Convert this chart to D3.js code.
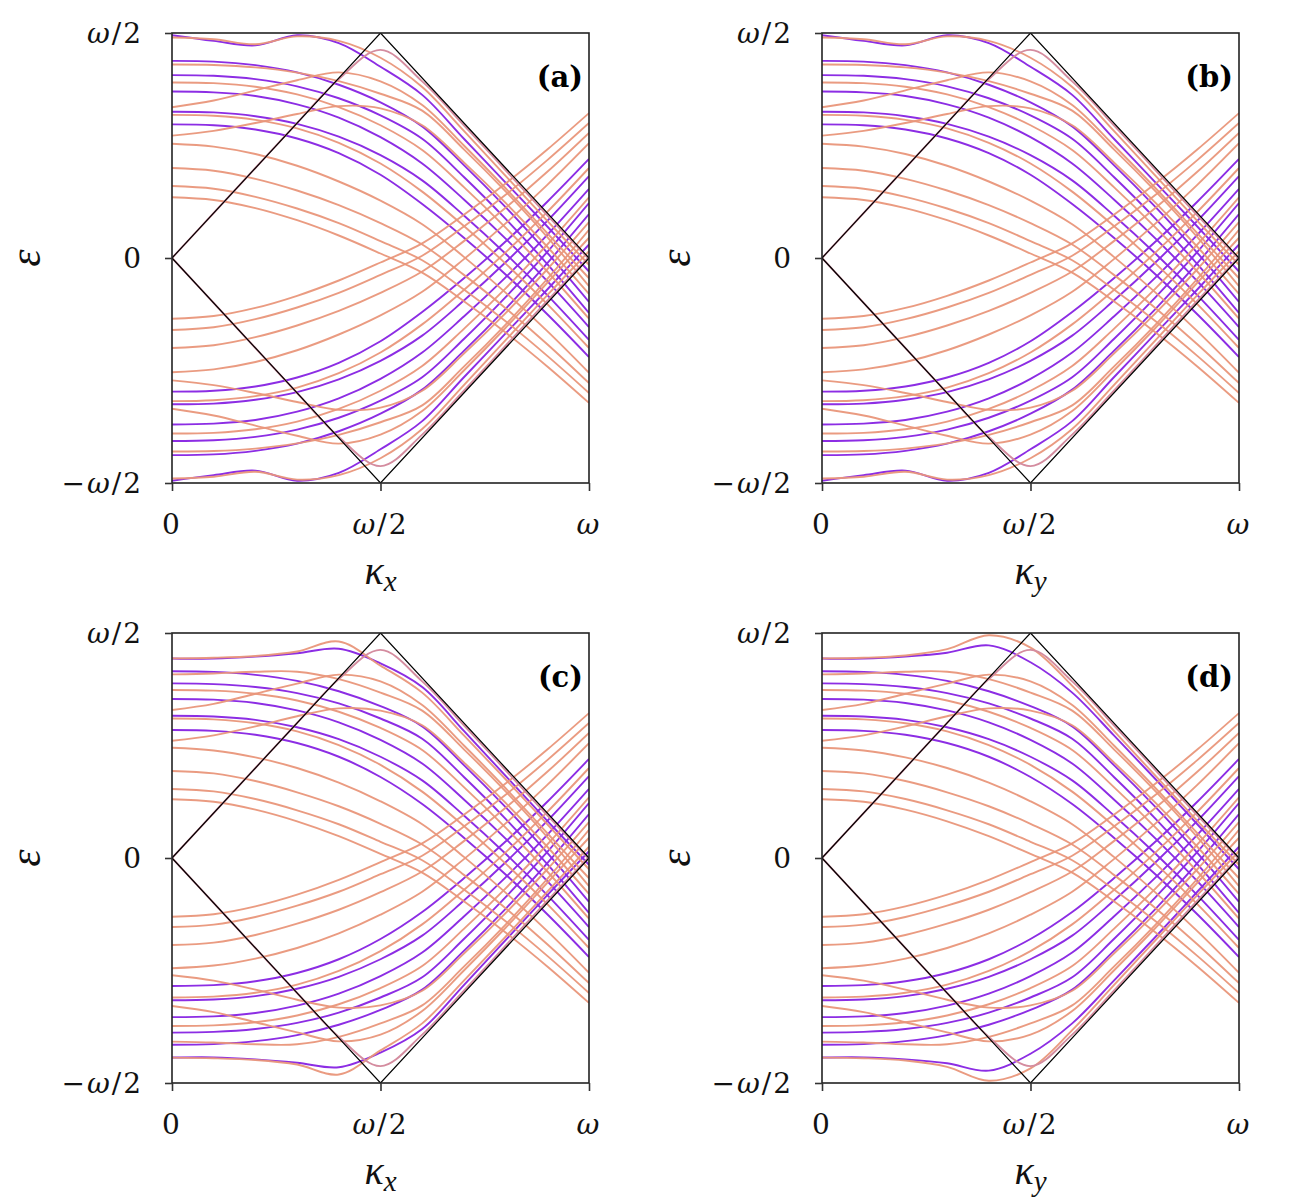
<!DOCTYPE html>
<html><head><meta charset="utf-8">
<script src="https://cdn.jsdelivr.net/npm/d3@7"></script>
<style>body{margin:0;background:#fff}</style>
</head><body><svg id="c" width="1300" height="1200"></svg>
<script>
// kappa sample points, in units of omega/2 (0 .. omega)
const KAPPA = [0, 0.2, 0.4, 0.6, 0.8, 1.0, 1.2, 1.4, 1.6, 1.8, 2.0];
const X_TICKS = [0, 1, 2];
const X_TICK_LABELS = ["0", "ω/2", "ω"];
const Y_TICKS = [-1, 0, 1];
const Y_TICK_LABELS = ["−ω/2", "0", "ω/2"];
const CONE_K = [0, 1, 2, 1, 0];
const CONE_E = [0, 1, 0, -1, 0];
// light-cone band (upper branch; lower branch is its mirror)
const TENT = [0, 0.2, 0.4, 0.6, 0.795, 0.925, 0.785, 0.59, 0.39, 0.19, -0.005];

// panels (a),(b): upper-half bands, epsilon in units of omega/2
const A_ORANGE = [
  [0.27, 0.258, 0.222, 0.168, 0.10, 0.02, -0.065, -0.192, -0.331, -0.482, -0.644],
  [0.32, 0.308, 0.272, 0.22, 0.155, 0.075, -0.01, -0.14, -0.281, -0.435, -0.60],
  [0.40, 0.388, 0.352, 0.30, 0.235, 0.155, 0.06, -0.075, -0.223, -0.383, -0.556],
  [0.508, 0.495, 0.462, 0.41, 0.34, 0.255, 0.15, 0.005, -0.154, -0.325, -0.51],
  [0.544, 0.565, 0.60, 0.64, 0.675, 0.665, 0.59, 0.425, 0.245, 0.05, -0.16],
  [0.636, 0.632, 0.614, 0.576, 0.512, 0.42, 0.295, 0.142, -0.025, -0.205, -0.40],
  [0.67, 0.70, 0.745, 0.79, 0.825, 0.785, 0.68, 0.50, 0.31, 0.11, -0.09],
  [0.78, 0.777, 0.761, 0.727, 0.671, 0.59, 0.48, 0.315, 0.135, -0.06, -0.27],
  [0.86, 0.858, 0.847, 0.824, 0.786, 0.73, 0.655, 0.483, 0.296, 0.093, -0.125],
  [0.98, 0.972, 0.95, 0.985, 0.965, 0.89, 0.76, 0.565, 0.365, 0.165, -0.03]
];
const A_PURPLE = [
  [0.594, 0.59, 0.571, 0.531, 0.466, 0.37, 0.24, 0.09, -0.073, -0.25, -0.44],
  [0.65, 0.647, 0.63, 0.596, 0.539, 0.457, 0.345, 0.189, 0.019, -0.165, -0.364],
  [0.74, 0.736, 0.72, 0.683, 0.624, 0.537, 0.42, 0.26, 0.086, -0.103, -0.307],
  [0.813, 0.81, 0.795, 0.763, 0.71, 0.634, 0.53, 0.36, 0.174, -0.027, -0.244],
  [0.876, 0.873, 0.857, 0.825, 0.77, 0.692, 0.585, 0.413, 0.226, 0.023, -0.195],
  [0.99, 0.965, 0.945, 0.99, 0.955, 0.85, 0.725, 0.53, 0.335, 0.14, -0.06]
];

// panels (c),(d)
const C_ORANGE = [
  [0.261, 0.25, 0.215, 0.163, 0.097, 0.018, -0.065, -0.192, -0.331, -0.482, -0.644],
  [0.307, 0.296, 0.262, 0.212, 0.15, 0.072, -0.01, -0.14, -0.281, -0.435, -0.60],
  [0.387, 0.376, 0.342, 0.292, 0.23, 0.152, 0.06, -0.075, -0.223, -0.383, -0.556],
  [0.49, 0.478, 0.447, 0.40, 0.335, 0.252, 0.15, 0.005, -0.154, -0.325, -0.51],
  [0.521, 0.545, 0.585, 0.63, 0.665, 0.655, 0.59, 0.425, 0.245, 0.05, -0.16],
  [0.62, 0.616, 0.599, 0.563, 0.502, 0.414, 0.295, 0.142, -0.025, -0.205, -0.40],
  [0.658, 0.685, 0.73, 0.775, 0.815, 0.785, 0.68, 0.50, 0.31, 0.11, -0.09],
  [0.747, 0.744, 0.73, 0.70, 0.65, 0.578, 0.48, 0.315, 0.135, -0.06, -0.27],
  [0.816, 0.82, 0.828, 0.828, 0.795, 0.735, 0.655, 0.483, 0.296, 0.093, -0.125]
];
const C_PURPLE = [
  [0.569, 0.565, 0.548, 0.511, 0.45, 0.36, 0.24, 0.09, -0.073, -0.25, -0.44],
  [0.632, 0.629, 0.614, 0.581, 0.528, 0.45, 0.345, 0.189, 0.019, -0.165, -0.364],
  [0.707, 0.704, 0.689, 0.656, 0.603, 0.525, 0.42, 0.26, 0.086, -0.103, -0.307],
  [0.776, 0.773, 0.76, 0.733, 0.687, 0.62, 0.53, 0.36, 0.174, -0.027, -0.244],
  [0.83, 0.827, 0.814, 0.787, 0.741, 0.675, 0.585, 0.413, 0.226, 0.023, -0.195]
];
const C_TOP_ORANGE = [0.887, 0.89, 0.898, 0.918, 0.962, 0.855, 0.735, 0.545, 0.35, 0.15, -0.05];
const C_TOP_PURPLE = [0.887, 0.886, 0.895, 0.91, 0.93, 0.865, 0.76, 0.565, 0.365, 0.165, -0.03];
const D_TOP_ORANGE = [0.887, 0.89, 0.90, 0.928, 0.99, 0.935, 0.765, 0.565, 0.365, 0.165, -0.03];
const D_TOP_PURPLE = [0.887, 0.886, 0.895, 0.912, 0.945, 0.87, 0.735, 0.545, 0.35, 0.15, -0.05];

const PURPLE = "#8c2de4", ORANGE = "#e9967a", PINK = "#d48c9f";
const FONT = "DejaVu Serif";
const TITLE_FONT = "Liberation Serif";

const panels = [
  {x0: 172, y0: 33, tag: "(a)", sub: "x", orange: A_ORANGE, purple: A_PURPLE},
  {x0: 822, y0: 33, tag: "(b)", sub: "y", orange: A_ORANGE, purple: A_PURPLE},
  {x0: 172, y0: 633, tag: "(c)", sub: "x", orange: C_ORANGE.concat([C_TOP_ORANGE]), purple: C_PURPLE.concat([C_TOP_PURPLE])},
  {x0: 822, y0: 633, tag: "(d)", sub: "y", orange: C_ORANGE.concat([D_TOP_ORANGE]), purple: C_PURPLE.concat([D_TOP_PURPLE])}
];

const W = 417, H = 450;
const svg = d3.select("#c");

function mathText(sel, str) {
  for (const ch of str.split(/(ω|κ|ε)/)) {
    if (!ch) continue;
    const t = sel.append("tspan").text(ch);
    if (/[ωκε]/.test(ch)) t.attr("font-style", "italic");
  }
}

panels.forEach((p, pi) => {
  const g = svg.append("g").attr("transform", `translate(${p.x0},${p.y0})`);
  const x = d3.scaleLinear().domain([0, 2]).range([0, W]);
  const y = d3.scaleLinear().domain([-1, 1]).range([H, 0]);
  const yM = d3.scaleLinear().domain([-1, 1]).range([0, H]); // mirror (epsilon -> -epsilon)
  const cid = "clip" + pi;
  g.append("clipPath").attr("id", cid).append("rect").attr("width", W).attr("height", H);
  const plot = g.append("g").attr("clip-path", `url(#${cid})`);
  const mk = ys => d3.line().x((d, i) => x(KAPPA[i])).y(d => ys(d)).curve(d3.curveCatmullRom.alpha(0.5));

  [y, yM].forEach(ys => {
    plot.append("g").selectAll("path").data(p.purple).join("path")
      .attr("d", mk(ys)).attr("fill", "none").attr("stroke", PURPLE).attr("stroke-width", 1.9);
  });
  [y, yM].forEach(ys => {
    plot.append("g").selectAll("path").data(p.orange).join("path")
      .attr("d", mk(ys)).attr("fill", "none").attr("stroke", ORANGE).attr("stroke-width", 1.9).attr("stroke-opacity", 0.95);
  });
  [y, yM].forEach(ys => {
    plot.append("path").datum(TENT).attr("d", mk(ys)).attr("fill", "none")
      .attr("stroke", PINK).attr("stroke-width", 1.9);
  });
  // light cone
  plot.append("path").datum(CONE_K.map((k, i) => [k, CONE_E[i]]))
    .attr("d", d3.line().x(d => x(d[0])).y(d => y(d[1])))
    .attr("fill", "none").attr("stroke", "#000").attr("stroke-width", 1.2);

  // frame
  g.append("rect").attr("width", W).attr("height", H).attr("fill", "none")
    .attr("stroke", "#222").attr("stroke-width", 1.6);

  // axes ticks
  const ax = g.append("g").attr("transform", `translate(0,${H})`)
    .call(d3.axisBottom(x).tickValues(X_TICKS).tickSize(8).tickSizeOuter(0).tickFormat(""));
  const ay = g.append("g")
    .call(d3.axisLeft(y).tickValues(Y_TICKS).tickSize(7).tickSizeOuter(0).tickFormat(""));
  [ax, ay].forEach(a => {
    a.select(".domain").remove();
    a.selectAll("line").attr("stroke", "#333").attr("stroke-width", 1.6);
  });

  // tick labels
  X_TICKS.forEach((t, i) => {
    const tx = g.append("text").attr("x", x(t)).attr("y", H + 51)
      .attr("text-anchor", "middle").attr("font-family", FONT).attr("font-size", 28)
      .attr("letter-spacing", 2).attr("fill", "#111");
    mathText(tx, X_TICK_LABELS[i]);
  });
  Y_TICKS.forEach((t, i) => {
    const ty = g.append("text").attr("x", -29).attr("y", y(t) + 10)
      .attr("text-anchor", "end").attr("font-family", FONT).attr("font-size", 28)
      .attr("letter-spacing", 2).attr("fill", "#111");
    mathText(ty, Y_TICK_LABELS[i]);
  });

  // axis titles
  const xl = g.append("text").attr("x", W / 2).attr("y", H + 101)
    .attr("text-anchor", "middle").attr("font-family", TITLE_FONT).attr("font-size", 40).attr("fill", "#111");
  xl.append("tspan").attr("font-style", "italic").text("κ");
  xl.append("tspan").attr("font-style", "italic").attr("font-size", 29).attr("dy", 7).text(p.sub);

  g.append("text").attr("transform", `translate(${-132},${H / 2}) rotate(-90)`)
    .attr("text-anchor", "middle").attr("font-family", TITLE_FONT).attr("font-style", "italic")
    .attr("font-size", 44).attr("fill", "#111").text("ε");

  g.append("text").attr("x", W - 6).attr("y", 54).attr("text-anchor", "end")
    .attr("font-family", FONT).attr("font-weight", "bold").attr("font-size", 29).attr("fill", "#000")
    .text(p.tag);
});
</script>
</body></html>
